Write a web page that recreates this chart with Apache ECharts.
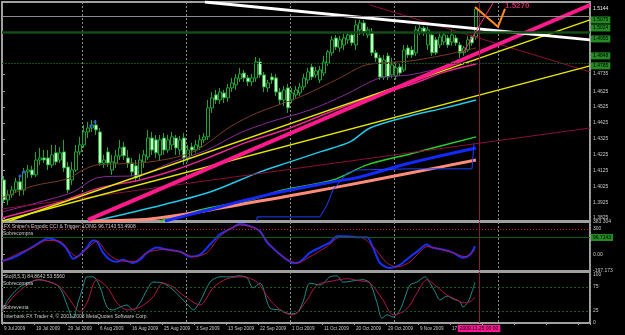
<!DOCTYPE html>
<html>
<head>
<meta charset="utf-8">
<script src="https://cdn.jsdelivr.net/npm/echarts@6/dist/echarts.min.js"></script>
<style>html,body{margin:0;padding:0;background:#000}#main{width:625px;height:335px}</style>
</head>
<body>
<div id="main"></div>
<script>
// daily EURUSD-style bars, [open, close, low, high]
var dateLabels = ['9 Jul 2009','19 Jul 2009','29 Jul 2009','6 Aug 2009','16 Aug 2009','25 Aug 2009','3 Sep 2009',
    '13 Sep 2009','22 Sep 2009','1 Oct 2009','11 Oct 2009','20 Oct 2009','29 Oct 2009','9 Nov 2009','17 Nov 2009'];
var candles = [
    [1.4065,1.3939,1.3920,1.4090],[1.3939,1.3971,1.3907,1.4002],[1.3971,1.4002,1.3952,1.4027],[1.4002,1.4053,1.3983,1.4078],
    [1.4053,1.4002,1.3964,1.4090],[1.4002,1.4116,1.3971,1.4141],[1.4116,1.4128,1.4078,1.4160],[1.4128,1.4097,1.4078,1.4154],
    [1.4097,1.4191,1.4084,1.4242],[1.4191,1.4204,1.4160,1.4267],[1.4204,1.4191,1.4172,1.4254],[1.4204,1.4160,1.4128,1.4254],
    [1.4160,1.4223,1.4141,1.4286],[1.4236,1.4179,1.4160,1.4286],[1.4191,1.4236,1.4172,1.4273],[1.4242,1.4141,1.4116,1.4318],
    [1.4147,1.4002,1.3983,1.4179],[1.4065,1.4128,1.4034,1.4179],[1.4128,1.4242,1.4116,1.4286],[1.4242,1.4286,1.4223,1.4337],
    [1.4286,1.4368,1.4267,1.4412],[1.4368,1.4393,1.4330,1.4431],[1.4393,1.4412,1.4368,1.4444],[1.4412,1.4381,1.4349,1.4444],
    [1.4368,1.4172,1.4154,1.4393],[1.4172,1.4191,1.4141,1.4223],[1.4242,1.4172,1.4147,1.4273],[1.4128,1.4179,1.4097,1.4223],
    [1.4172,1.4217,1.4141,1.4254],[1.4217,1.4267,1.4191,1.4318],[1.4273,1.4217,1.4191,1.4305],[1.4204,1.4172,1.4141,1.4254],
    [1.4172,1.4116,1.4090,1.4204],[1.4154,1.4078,1.4053,1.4191],[1.4090,1.4191,1.4065,1.4229],[1.4179,1.4223,1.4141,1.4254],
    [1.4210,1.4330,1.4191,1.4381],[1.4330,1.4254,1.4223,1.4368],[1.4318,1.4236,1.4204,1.4349],[1.4223,1.4318,1.4191,1.4349],
    [1.4330,1.4254,1.4223,1.4362],[1.4254,1.4318,1.4236,1.4349],[1.4286,1.4337,1.4254,1.4368],[1.4330,1.4267,1.4223,1.4349],
    [1.4254,1.4318,1.4223,1.4343],[1.4330,1.4204,1.4160,1.4362],[1.4204,1.4254,1.4179,1.4286],[1.4273,1.4254,1.4217,1.4299],
    [1.4254,1.4286,1.4236,1.4318],[1.4273,1.4318,1.4254,1.4349],[1.4318,1.4337,1.4299,1.4362],[1.4337,1.4520,1.4318,1.4570],
    [1.4520,1.4583,1.4488,1.4620],[1.4602,1.4570,1.4545,1.4633],[1.4570,1.4620,1.4545,1.4646],[1.4614,1.4583,1.4551,1.4633],
    [1.4583,1.4646,1.4557,1.4671],[1.4646,1.4677,1.4620,1.4709],[1.4665,1.4709,1.4633,1.4734],[1.4703,1.4734,1.4684,1.4772],
    [1.4740,1.4709,1.4684,1.4759],[1.4709,1.4684,1.4658,1.4728],[1.4684,1.4709,1.4658,1.4734],[1.4709,1.4810,1.4684,1.4841],
    [1.4810,1.4728,1.4709,1.4835],[1.4728,1.4652,1.4620,1.4747],[1.4646,1.4677,1.4620,1.4696],[1.4715,1.4696,1.4671,1.4740],
    [1.4709,1.4620,1.4595,1.4734],[1.4620,1.4570,1.4545,1.4646],[1.4570,1.4633,1.4532,1.4658],[1.4646,1.4520,1.4488,1.4671],
    [1.4570,1.4614,1.4551,1.4646],[1.4602,1.4633,1.4583,1.4658],[1.4614,1.4652,1.4595,1.4677],[1.4652,1.4709,1.4633,1.4734],
    [1.4696,1.4747,1.4671,1.4772],[1.4778,1.4715,1.4696,1.4797],[1.4728,1.4753,1.4709,1.4778],[1.4696,1.4759,1.4677,1.4785],
    [1.4740,1.4810,1.4721,1.4848],[1.4803,1.4873,1.4785,1.4885],[1.4867,1.4949,1.4848,1.4974],[1.4961,1.4904,1.4885,1.4980],
    [1.4898,1.4949,1.4873,1.4974],[1.4917,1.4961,1.4885,1.4986],[1.4949,1.4980,1.4923,1.4999],[1.4980,1.4930,1.4911,1.4999],
    [1.4917,1.5043,1.4885,1.5075],[1.5012,1.5056,1.4980,1.5075],[1.5056,1.4999,1.4974,1.5075],[1.4980,1.5012,1.4961,1.5031],
    [1.4999,1.4867,1.4848,1.5024],[1.4867,1.4835,1.4810,1.4885],[1.4835,1.4715,1.4696,1.4854],[1.4715,1.4822,1.4696,1.4854],
    [1.4848,1.4715,1.4696,1.4867],[1.4728,1.4791,1.4709,1.4835],[1.4721,1.4772,1.4696,1.4810],[1.4778,1.4740,1.4721,1.4797],
    [1.4759,1.4885,1.4747,1.4917],[1.4898,1.4854,1.4835,1.4917],[1.4885,1.4854,1.4835,1.4911],[1.4867,1.5012,1.4848,1.5037],
    [1.4999,1.5024,1.4980,1.5043],[1.5024,1.4993,1.4974,1.5037],[1.4917,1.5012,1.4885,1.5031],[1.4980,1.4867,1.4848,1.4999],
    [1.4949,1.4867,1.4854,1.4968],[1.4917,1.4968,1.4898,1.4993],[1.4936,1.4980,1.4917,1.4999],[1.4961,1.4917,1.4898,1.4980],
    [1.4936,1.4980,1.4911,1.5012],[1.4961,1.4930,1.4911,1.4980],[1.4917,1.4867,1.4835,1.4936],[1.4867,1.4898,1.4848,1.4911],
    [1.4885,1.4949,1.4873,1.4974],[1.4968,1.4930,1.4911,1.4980],[1.4968,1.5144,1.4949,1.5157]
];

// price axis
var priceTicks = [1.3825,1.3925,1.4025,1.4125,1.4225,1.4325,1.4425,1.4525,1.4625,1.4735];
var priceLevels = [1.5075,1.5024,1.4955,1.4848,1.4785];
var lastPrice = [1.5144];

// drawn objects / moving averages, [bar, price]
var whiteTrend = [[50.75,1.5188],[147,1.4949]];
var pinkTrend = [[21.5,1.3813],[147,1.5169]];
var yellowUpper = [[1.75,1.3806],[147,1.5075]];
var yellowLower = [[0,1.3806],[147,1.4785]];
var maroonUp = [[0,1.3882],[147,1.4393]];
var maroonDown = [[92,1.5169],[147,1.4747]];
var maMagenta = [[0,1.3825],[14.5,1.3926],[24.5,1.4015],[34.5,1.4065],[43.25,1.4128],[52,1.4210],[60.75,1.4299],
    [72,1.4393],[82,1.4494],[92,1.4589],[102,1.4665],[110.75,1.4747],[118.5,1.4797]];
var maPurple = [[0,1.3863],[9.5,1.3926],[17.75,1.3989],[23.75,1.4078],[34.5,1.4097],[42.75,1.4179],[51.25,1.4254],
    [59.5,1.4362],[67,1.4431],[77,1.4507],[85.75,1.4602],[94.5,1.4709],[102,1.4728],[112,1.4785],[118.5,1.4822]];
var maBrown = [[0,1.3952],[7.75,1.4027],[16.25,1.4071],[20.25,1.4128],[23.75,1.4160],[34.5,1.4172],[42.75,1.4204],
    [48.75,1.4254],[57,1.4400],[63.75,1.4488],[74.5,1.4589],[84.5,1.4709],[90.25,1.4785],[94.5,1.4803],[102,1.4816],
    [110.75,1.4854],[118.5,1.4898]];
var maCyan = [[23.25,1.3806],[37,1.3888],[52,1.3989],[64.5,1.4116],[72,1.4179],[79.5,1.4242],[87,1.4305],[92,1.4393],
    [102,1.4469],[110.75,1.4520],[118.5,1.4570]];
var maGreen = [[39.5,1.3806],[49.5,1.3876],[62,1.3939],[70.25,1.4002],[82.75,1.4065],[91.25,1.4160],[102,1.4229],[118.5,1.4337]];
var maBlue = [[40.75,1.3806],[49.5,1.3863],[66.25,1.3971],[82.75,1.4053],[89.5,1.4084],[102,1.4172],[118.5,1.4267]];
var maSalmon = [[22,1.3806],[37,1.3819],[52,1.3876],[70.25,1.3958],[82.75,1.4015],[102,1.4109],[118.5,1.4191]];
var stepBlue = [[63.75,1.3806],[63.75,1.3832],[79.5,1.3832],[81.25,1.3907],[82.75,1.4002],[86.25,1.4109],[88.75,1.4128],
    [102,1.4135],[117.5,1.4135],[118,1.4299]];
var fractals = [[4.5,1.4090],[5.5,1.4116],[22.25,1.4406],[23.25,1.4431]];
var orangeArrow = [[118.25,1.5157],[124,1.5031],[125.75,1.5144]];
var pinkArrow = [[115.25,1.4867],[122.75,1.5182]];
var targetText = [[125.75,1.5163]];

// Ergodic CCI panel
var cciTicks = [383.304,300,0,-197.173];
var cciBox = [200];
var cciMain = [[0,-77],[2.75,-40],[5.25,20],[7.75,93],[10.25,165],[11.5,190],[14,153],[15.75,93],[17,-4],[17.75,-52],
    [19.5,-4],[21.25,81],[22.75,165],[23.75,153],[25.25,20],[27,-64],[28.75,-88],[30.25,-64],[32.75,-101],[34.5,-64],
    [36.25,20],[38.75,81],[41.25,57],[44.5,32],[47,-28],[49.5,-4],[52,117],[54.5,238],[57,299],[59.5,359],[62,335],
    [64.5,274],[66.25,141],[68.75,32],[71.25,-64],[72.75,-101],[74.5,-88],[77,20],[79.5,81],[82,141],[83.75,214],
    [86.25,214],[88.75,202],[91.25,202],[92.75,81],[94.5,-101],[97,-161],[99.5,-125],[102,-28],[103.75,32],[106.25,117],
    [107.5,81],[110.25,57],[112.75,20],[115.25,-40],[117,-4],[118.25,97]];
var cciTrigger = [[0,-88],[4.5,20],[7.75,81],[11.25,165],[14.5,153],[17,32],[18.75,-28],[21.25,69],[23.75,153],[26.25,20],
    [28.75,-64],[32.75,-88],[36.25,20],[40.25,57],[45.25,20],[47.75,-28],[51.25,20],[54.5,214],[59.5,347],[63.75,299],
    [67,117],[70.25,-28],[73.75,-101],[77,-28],[81.25,93],[84.5,202],[89.5,202],[92.75,93],[96.25,-101],[98.75,-149],
    [102,-88],[104.5,32],[106.25,93],[108.75,69],[112.75,20],[115.75,-28],[118.25,53]];

// Stochastic panel
var stoTicks = [100,75,25,0];
var stoMain = [[0,27],[2,54],[4.5,75],[7,85],[9.5,90],[12,85],[13.75,79],[15,65],[16.25,37.5],[17.75,10],[19,42],[20.25,75],
    [21.25,96],[22.75,96],[24.5,75],[26.25,33],[27.75,27],[29.5,33],[31.25,37.5],[32.75,27],[34.5,42],[36.25,69],[37.75,85],
    [40.25,83],[42.75,69],[45.25,48],[47,33],[47.75,27],[49.5,44],[52,85],[54.5,96],[57.75,96],[59,98],[61.25,94],[62.75,73],
    [64.5,83],[67,31],[69.5,27],[72,19],[73.75,21],[75.25,44],[77,83],[79.5,79],[82,96],[83.75,98],[85.25,85],[87.75,87.5],
    [90.25,90],[92,83],[93.75,42],[95,10],[96.25,17],[97.75,12.5],[99.5,27],[100.75,54],[102,79],[103.75,85],[105.75,96],
    [107,83],[108.25,65],[109.5,48],[111.25,56],[112.75,50],[114.5,44],[115.25,33],[116.5,44],[117.5,65],[118.25,85]];
var stoSignal = [[0,23],[2.75,54],[6.25,79],[8.75,90],[12,85],[14.5,75],[17,48],[19.5,23],[21.25,42],[23.75,90],[26.25,75],
    [28.75,42],[31.25,27],[34.5,33],[37.75,54],[40.25,83],[42.75,75],[45.25,58],[49.5,37.5],[52.75,73],[56.25,92],[60.25,96],
    [63.75,85],[67,48],[70.25,23],[72.75,17],[76.25,48],[78.75,79],[82.75,87.5],[86.25,92],[89.5,87.5],[92,83],[95.25,48],
    [97.75,17],[100.25,23],[102,37.5],[103.75,62.5],[106.25,90],[108.75,75],[111.25,58],[113.75,48],[115.25,42],[117,44],[118.25,53.6]];

var BARS = 147;
var nowBar = 119.25;
var cats = [];
for (var i = 0; i < BARS; i++) cats.push(i);

var txt = '#c8c8c8';
var font = 'Liberation Sans';
var small = {fontSize: 5, color: txt, fontFamily: font};

function catAxis(g, labels) {
    return {
        type: 'category', gridIndex: g, data: cats, boundaryGap: true,
        axisLine: {show: labels, lineStyle: {color: '#a0a0a0'}},
        axisTick: {show: labels, interval: 7, length: 2, lineStyle: {color: '#a0a0a0'}},
        axisLabel: {show: labels, interval: 7, align: 'left', margin: 3, fontSize: 4.6, color: txt, fontFamily: font,
            formatter: function (v, idx) { return dateLabels[idx / 8] || ''; }},
        splitLine: {show: true, interval: function (idx) { return idx % 26 === 20; },
            lineStyle: {color: '#8c8c8c', type: [2, 2], width: 1}}
    };
}
function hiddenX(g) {
    return {type: 'value', gridIndex: g, min: 0, max: BARS, show: false};
}
function rightY(g, min, max, ticks, fmt, extra) {
    return {
        type: 'value', gridIndex: g, position: 'right', min: min, max: max,
        splitLine: {show: false}, axisLine: {show: false},
        axisTick: {show: !extra, customValues: ticks, length: 3, lineStyle: {color: '#a0a0a0'}},
        axisLabel: Object.assign({customValues: ticks, margin: 3, formatter: fmt}, small, extra || {})
    };
}
function ln(data, color, width, xi, yi, smooth) {
    return {type: 'line', xAxisIndex: xi, yAxisIndex: yi, data: data, symbol: 'none', silent: true,
        smooth: smooth || 0, z: 3, lineStyle: {color: color, width: width}, animation: false};
}
var greenBox = {backgroundColor: '#238a23', color: '#000', padding: [1, 2], margin: 1};

var levelLines = priceLevels.map(function (v, k) {
    return {yAxis: v, lineStyle: {color: '#124c16', type: k === 2 ? 'solid' : [2, 1], width: k === 2 ? 2.5 : 1}};
});
levelLines.push({yAxis: lastPrice[0], lineStyle: {color: '#8c8c8c', type: 'solid', width: 1}});

var vLine = {xAxis: nowBar, lineStyle: {color: '#8c1a40', type: 'solid', width: 1}, label: {show: false}};

var series = [
    {type: 'candlestick', xAxisIndex: 0, yAxisIndex: 0, data: candles, barWidth: 3, animation: false,
        itemStyle: {color: '#000', color0: '#d6ffcc', borderColor: '#1ca636', borderColor0: '#1ca636', borderWidth: 1},
        markLine: {silent: true, symbol: 'none', animation: false, label: {show: false}, data: levelLines}},
    ln(maBrown, '#7a3b1e', 1, 3, 0, 0.3),
    ln(maPurple, '#8a2a9a', 1, 3, 0, 0.3),
    ln(maMagenta, '#e6288c', 1.5, 3, 0, 0.3),
    ln(maCyan, '#22c8e8', 1.5, 3, 0, 0.3),
    ln(maGreen, '#28d228', 1.5, 3, 0, 0.3),
    ln(maSalmon, '#ff8c78', 3, 3, 0, 0.3),
    ln(maBlue, '#1428ff', 3, 3, 0, 0.3),
    ln(stepBlue, '#1e40ff', 1, 3, 0),
    ln(maroonUp, '#8b0f3a', 1, 3, 0),
    ln(maroonDown, '#8b0f3a', 1, 3, 0),
    ln(yellowUpper, '#e6e600', 1.5, 3, 0),
    ln(yellowLower, '#e6e600', 1.5, 3, 0),
    ln(pinkTrend, '#ff1a8c', 4, 3, 0),
    Object.assign(ln(whiteTrend, '#ffffff', 3, 3, 0), {
        markLine: {silent: true, symbol: 'none', animation: false, data: [vLine]}}),
    {type: 'scatter', xAxisIndex: 3, yAxisIndex: 0, data: fractals, symbol: 'diamond', symbolSize: 4,
        itemStyle: {color: '#3a5cff'}, silent: true, z: 4, animation: false},
    {type: 'lines', coordinateSystem: 'cartesian2d', xAxisIndex: 3, yAxisIndex: 0, polyline: true, z: 5,
        symbol: ['none', 'arrow'], symbolSize: 6, silent: true, animation: false,
        lineStyle: {color: '#ff8c1a', width: 2, opacity: 1},
        data: [{coords: orangeArrow}]},
    {type: 'lines', coordinateSystem: 'cartesian2d', xAxisIndex: 3, yAxisIndex: 0, polyline: true, z: 5,
        symbol: ['none', 'arrow'], symbolSize: 5, silent: true, animation: false,
        lineStyle: {color: '#ff2a7f', width: 1, opacity: 1},
        data: [{coords: pinkArrow}]},
    {type: 'scatter', xAxisIndex: 3, yAxisIndex: 0, data: targetText, symbolSize: 0, silent: true, z: 6, animation: false,
        label: {show: true, position: 'right', distance: 0, formatter: '1.5270', color: '#ff2a7f',
            fontSize: 8, fontWeight: 'bold', fontFamily: font}},

    // Ergodic CCI
    Object.assign(ln(cciMain, '#1432ff', 2, 4, 1, 0.3), {
        markLine: {silent: true, symbol: 'none', animation: false, data: [
            {yAxis: 300, lineStyle: {color: '#c8143c', type: [1, 2], width: 1}, label: {show: false}},
            {yAxis: 200, lineStyle: {color: '#145a14', type: 'solid', width: 1},
                label: Object.assign({position: 'insideStartTop', formatter: 'Sobrecompra', distance: 1}, small)},
            vLine
        ]}}),
    ln(cciTrigger, '#b4144a', 1, 4, 1, 0.3),

    // Stochastic
    Object.assign(ln(stoMain, '#1e8c8c', 1, 5, 2, 0.3), {
        markLine: {silent: true, symbol: 'none', animation: false, data: [
            {yAxis: 75, lineStyle: {color: '#1a5a1a', type: [2, 2], width: 1},
                label: Object.assign({position: 'insideStartTop', formatter: 'Sobrecompra', distance: 1}, small)},
            {yAxis: 25, lineStyle: {color: '#1a5a1a', type: [2, 2], width: 1},
                label: Object.assign({position: 'insideStartTop', formatter: 'Sobreventa', distance: 1}, small)},
            {xAxis: nowBar, lineStyle: {color: '#8c1a40', type: 'solid', width: 1},
                label: {show: true, position: 'start', formatter: '2009.11.25 00:00', backgroundColor: '#ff1493',
                    color: '#000', fontSize: 5, fontFamily: font, padding: [1, 2], distance: 2}}
        ]}}),
    ln(stoSignal, '#b4144a', 1, 5, 2, 0.3)
];

var fmt4 = function (v) { return v.toFixed(4); };

var option = {
    backgroundColor: '#000',
    animation: false,
    title: [
        {text: "FX Sniper's Ergodic CCI & Trigger: LONG 96.7143 53.4908", left: 4, top: 224, padding: 0,
            textStyle: {fontSize: 5, color: txt, fontWeight: 'normal', fontFamily: font}},
        {text: 'Sto(8,5,3) 84.8642 53.5560', left: 4, top: 274, padding: 0,
            textStyle: {fontSize: 5, color: txt, fontWeight: 'normal', fontFamily: font}},
        {text: 'Interbank FX Trader 4, \u00a9 2001-2008 MetaQuotes Software Corp.', left: 4, top: 314, padding: 0,
            textStyle: {fontSize: 5, color: txt, fontWeight: 'normal', fontFamily: font}}
    ],
    grid: [
        {left: 2, right: 35, top: 2, height: 219, show: true, borderColor: '#a0a0a0', borderWidth: 2, backgroundColor: '#000'},
        {left: 2, right: 35, top: 222, height: 49, show: true, borderColor: '#a0a0a0', borderWidth: 2, backgroundColor: '#000'},
        {left: 2, right: 35, top: 272, height: 51, show: true, borderColor: '#a0a0a0', borderWidth: 2, backgroundColor: '#000'}
    ],
    xAxis: [catAxis(0, false), catAxis(1, false), catAxis(2, true), hiddenX(0), hiddenX(1), hiddenX(2)],
    yAxis: [
        rightY(0, 1.3806, 1.5188, priceTicks, fmt4),
        rightY(1, -197.173, 383.304, cciTicks, function (v) { return v === 0 ? '0.00' : String(v); }),
        rightY(2, 0, 106, stoTicks, function (v) { return String(v); }),
        // boxed level prices and current bid, drawn as extra label axes on the price pane
        rightY(0, 1.3806, 1.5188, priceLevels, fmt4, greenBox),
        rightY(0, 1.3806, 1.5188, lastPrice, fmt4, {color: '#f0f0f0', margin: 3}),
        rightY(1, -197.173, 383.304, cciBox, function () { return '96.7143'; }, greenBox)
    ],
    series: series
};

echarts.init(document.getElementById('main')).setOption(option);
</script>
</body>
</html>
